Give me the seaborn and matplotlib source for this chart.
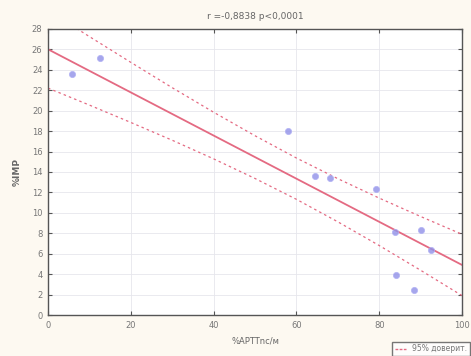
import numpy as np
import pandas as pd
import matplotlib
matplotlib.use("Agg")
import matplotlib.pyplot as plt
import seaborn as sns
from matplotlib.lines import Line2D

# data
aptt = [5.8, 12.6, 58.0, 64.5, 68.0, 79.2, 83.8, 90.0, 92.5, 84.0, 88.4]
imp = [23.6, 25.1, 18.0, 13.6, 13.4, 12.3, 8.1, 8.3, 6.4, 3.9, 2.5]
# regression line and 95% band
band_x = [0, 10, 20, 30, 40, 50, 60, 70, 80, 90, 100]
fit_y = [26.0, 23.89, 21.78, 19.67, 17.56, 15.45, 13.34, 11.23, 9.12, 7.01, 4.9]
upper_y = [29.8, 27.24, 24.72, 22.24, 19.84, 17.54, 15.36, 13.34, 11.44, 9.64, 7.9]
lower_y = [22.2, 20.54, 18.84, 17.10, 15.28, 13.36, 11.32, 9.12, 6.80, 4.38, 1.9]
xticks = [0, 20, 40, 60, 80, 100]
yticks = list(range(0, 29, 2))
title = "r =-0,8838 p<0,0001"
xlabel = "%APTTnc/м"
ylabel = "%IMP"
legend_label = "95% доверит."

pts = pd.DataFrame({"x": aptt, "y": imp})
band = pd.DataFrame({"x": band_x, "fit": fit_y, "up": upper_y, "lo": lower_y})

sns.set_style("white")
plt.rcParams["font.family"] = ["DejaVu Sans"]

fig = plt.figure(figsize=(4.71, 3.56), dpi=100, facecolor="#fdf9f1")
ax = fig.add_axes([0.102, 0.115, 0.879, 0.804])
ax.set_facecolor("white")

line_c = "#e46a82"
sns.lineplot(data=band, x="x", y="fit", ax=ax, color=line_c, lw=1.3, zorder=2)
sns.lineplot(data=band, x="x", y="up", ax=ax, color=line_c, lw=0.9, zorder=2,
             linestyle=(0, (2, 2.5)))
sns.lineplot(data=band, x="x", y="lo", ax=ax, color=line_c, lw=0.9, zorder=2,
             linestyle=(0, (2, 2.5)))
sns.scatterplot(data=pts, x="x", y="y", ax=ax, s=20, color="#9090e8", alpha=0.8,
                edgecolor="#b0b0f4", linewidth=0.6, zorder=3)

ax.set_xlim(0, 100)
ax.set_ylim(0, 28)
ax.set_xticks(xticks)
ax.set_yticks(yticks)
ax.grid(True, color="#e6e6ec", lw=0.6)
ax.tick_params(direction="in", length=3, labelsize=6, colors="#555555",
               top=True, right=True, bottom=True, left=True, pad=4)
for lab in ax.get_xticklabels() + ax.get_yticklabels():
    lab.set_color("#777777")
for sp in ax.spines.values():
    sp.set_color("#555555")
    sp.set_linewidth(1.0)
ax.set_xlabel(xlabel, fontsize=6, color="#666666", labelpad=5)
ax.set_ylabel(ylabel, fontsize=6.5, color="#666666", fontweight="bold", labelpad=7)
ax.set_title(title, fontsize=6.5, color="#666666", pad=7)

handle = Line2D([], [], color=line_c, lw=1.0, ls=(0, (2, 1)))
fig.legend([handle], [legend_label], loc="lower right", bbox_to_anchor=(1.005, -0.01),
           fontsize=5.5, frameon=True, fancybox=False, edgecolor="#555555",
           handlelength=1.5, borderpad=0.3, labelcolor="#777777")

fig.savefig("out.png", dpi=100, facecolor=fig.get_facecolor())
